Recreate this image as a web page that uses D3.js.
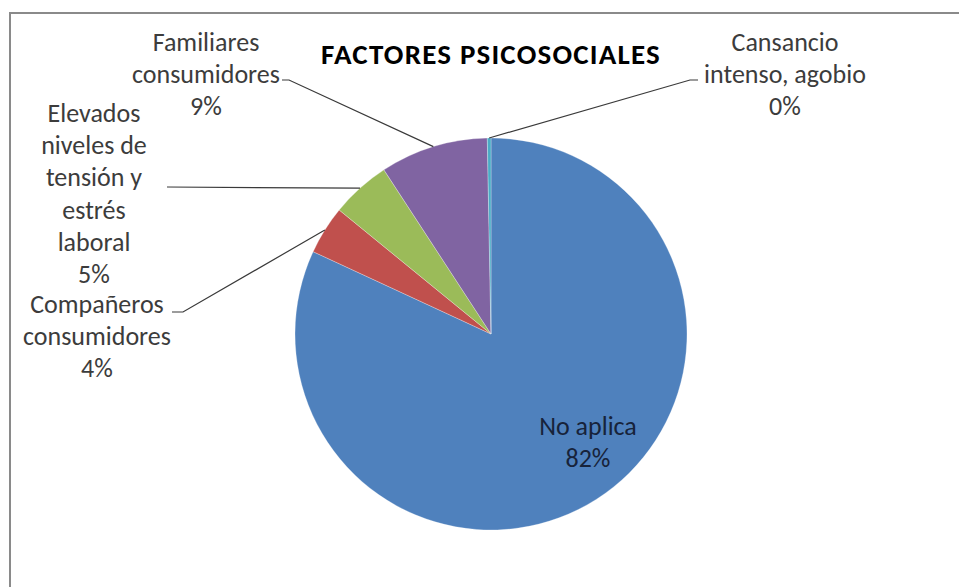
<!DOCTYPE html>
<html>
<head>
<meta charset="utf-8">
<script src="https://cdn.jsdelivr.net/npm/d3@7"></script>
<style>
  html, body { margin: 0; padding: 0; background: #fff; }
  svg { display: block; }
  text { font-family: Carlito, Calibri, Lato, "Noto Sans", sans-serif; }
</style>
</head>
<body>
<svg id="chart" width="959" height="587"></svg>
<script>
// Survey shares for the psychosocial factors (percent of respondents)
const chartTitle = "FACTORES PSICOSOCIALES";
const categories = [
  "No aplica",
  "Compañeros consumidores",
  "Elevados niveles de tensión y estrés laboral",
  "Familiares consumidores",
  "Cansancio intenso, agobio"
];
const values = [81.9, 4.0, 4.9, 8.9, 0.3];
const colors = ["#4F81BD", "#C0504D", "#9BBB59", "#8064A2", "#4BACC6"];

// Line breaks used for each data label
const labelLines = [
  ["No aplica"],
  ["Compañeros", "consumidores"],
  ["Elevados", "niveles de", "tensión y", "estrés", "laboral"],
  ["Familiares", "consumidores"],
  ["Cansancio", "intenso, agobio"]
];

const svg = d3.select("#chart");
const W = 959, H = 587;
const cx = 491, cy = 334, R = 196;

// Chart area frame
svg.append("rect")
  .attr("x", 10).attr("y", 13)
  .attr("width", W + 20).attr("height", H + 20)
  .attr("fill", "#fff")
  .attr("stroke", "#8a8a8a")
  .attr("stroke-width", 2);

// Title
svg.append("text")
  .attr("x", cx).attr("y", 64)
  .attr("text-anchor", "middle")
  .attr("font-size", 29)
  .attr("font-weight", "bold")
  .attr("letter-spacing", 1.2)
  .attr("fill", "#000")
  .text(chartTitle);

const total = d3.sum(values);
const pie = d3.pie().sort(null).value(d => d)
  .startAngle(0).endAngle(2 * Math.PI);
const arcs = pie(values);

const arc = d3.arc().innerRadius(0).outerRadius(R);
const edge = d3.arc().innerRadius(R).outerRadius(R);

const g = svg.append("g").attr("transform", `translate(${cx},${cy})`);

g.selectAll("path.slice")
  .data(arcs)
  .join("path")
  .attr("class", "slice")
  .attr("d", arc)
  .attr("fill", (d, i) => colors[i])
  .attr("stroke", "rgba(255,255,255,0.35)")
  .attr("stroke-width", 0.8);

// Label placement: anchor (centre of text block, first baseline) and leader start
const labelLayout = [
  { x: 588, y: 435, leader: null, fill: "#17233a" },
  { x: 97, y: 313, leader: [[172, 312], [183, 312]], fill: "#3c3c3c" },
  { x: 94, y: 122, leader: [[167, 187]], fill: "#3c3c3c" },
  { x: 206, y: 51, leader: [[282, 80], [289, 80]], fill: "#3c3c3c" },
  { x: 785, y: 51, leader: [[698, 80], [690, 80]], fill: "#3c3c3c" }
];
const lineGap = 32.2;
const fmt = v => Math.round(v / total * 100) + "%";

// Leader lines from label to slice edge
arcs.forEach((d, i) => {
  const L = labelLayout[i];
  if (!L.leader) return;
  const [ex, ey] = edge.centroid(d);
  const pts = L.leader.concat([[cx + ex, cy + ey]]);
  svg.append("path")
    .attr("d", d3.line()(pts))
    .attr("fill", "none")
    .attr("stroke", "#3a3a3a")
    .attr("stroke-width", 1.2);
});

// Data labels
arcs.forEach((d, i) => {
  const L = labelLayout[i];
  const lines = labelLines[i].concat([fmt(d.value)]);
  const t = svg.append("text")
    .attr("x", L.x).attr("y", L.y)
    .attr("text-anchor", "middle")
    .attr("font-size", 26)
    .attr("fill", L.fill);
  lines.forEach((s, k) => {
    t.append("tspan")
      .attr("x", L.x)
      .attr("y", L.y + k * lineGap)
      .text(s);
  });
});
</script>
</body>
</html>
